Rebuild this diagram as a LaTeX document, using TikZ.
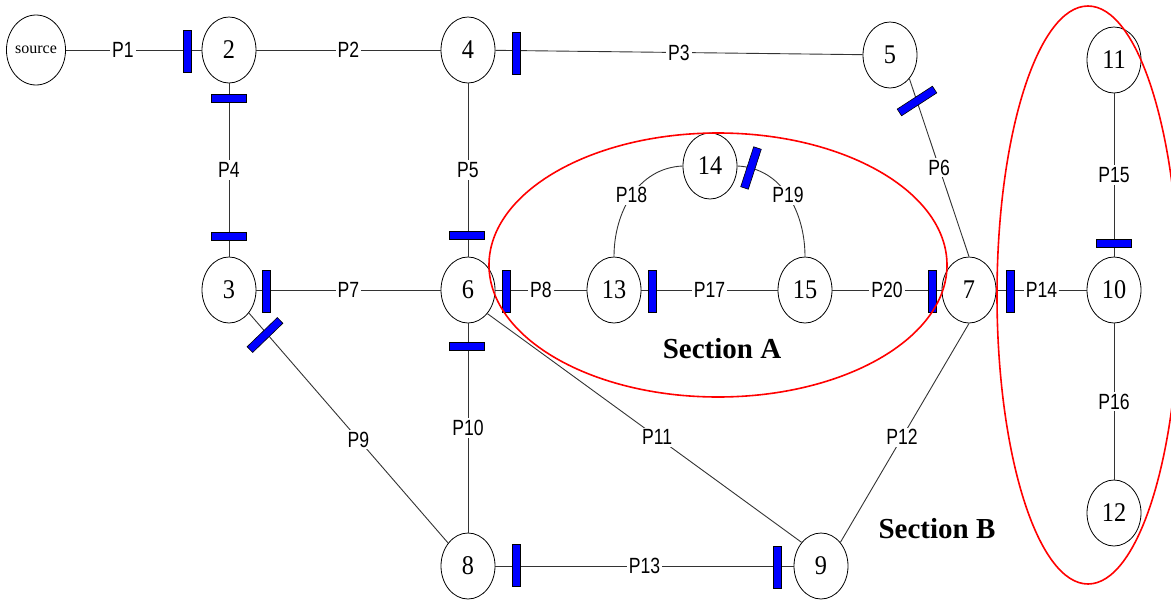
\documentclass[tikz,border=0pt]{standalone}
\usepackage{fontspec}
\usetikzlibrary{shapes.geometric}
\newfontfamily\lblfont[FakeStretch=0.8]{Liberation Sans}
\newfontfamily\numfont[FakeStretch=0.9]{Liberation Serif}
\newfontfamily\seriffont{Liberation Serif}
\begin{document}
\begin{tikzpicture}[x=1pt,y=-1pt,
  place/.style={ellipse,draw=black,line width=0.8pt,minimum width=54pt,minimum height=66pt,inner sep=0pt,font={\numfont\fontsize{27pt}{30pt}\selectfont}},
  srcplace/.style={place,minimum width=55pt,minimum height=70pt,font={\seriffont\fontsize{16pt}{18pt}\selectfont}},
  lbl/.style={fill=white,inner sep=2pt,font={\lblfont\fontsize{22pt}{24pt}\selectfont}},
  vbar/.style={rectangle,fill=blue,draw=black,line width=0.6pt,minimum width=8pt,minimum height=42pt,inner sep=0pt},
  hbar/.style={vbar,minimum width=35pt,minimum height=8pt},
  arc/.style={draw=black!80,line width=0.9pt},
  region/.style={ellipse,draw=red,line width=1.6pt,inner sep=0pt},
  sect/.style={font={\seriffont\bfseries\fontsize{29pt}{32pt}\selectfont}}
]
\useasboundingbox (0,0) rectangle (1171,600);
% places
\node[srcplace] (src) at (36,50) {source};
\node[place] (n2) at (229,50) {2};
\node[place] (n4) at (468,50) {4};
\node[place] (n5) at (890,55) {5};
\node[place] (n11) at (1114,60) {11};
\node[place] (n3) at (229,290) {3};
\node[place] (n6) at (468,290) {6};
\node[place] (n13) at (614,290) {13};
\node[place] (n15) at (805,290) {15};
\node[place] (n7) at (969,290) {7};
\node[place] (n10) at (1114,290) {10};
\node[place] (n14) at (710,166) {14};
\node[place] (n8) at (468,566) {8};
\node[place] (n9) at (821,566) {9};
\node[place] (n12) at (1114,513) {12};
% arcs
\draw[arc] (src) -- node[lbl,pos=0.42]{P1} (n2);
\draw[arc] (n2) -- node[lbl]{P2} (n4);
\draw[arc] (n4) -- node[lbl]{P3} (n5);
\draw[arc] (n2) -- node[lbl]{P4} (n3);
\draw[arc] (n4) -- node[lbl]{P5} (n6);
\draw[arc] (n5.south east) -- node[lbl]{P6} (n7.north);
\draw[arc] (n3) -- node[lbl]{P7} (n6);
\draw[arc] (n6) -- node[lbl]{P8} (n13);
\draw[arc] (n3) -- node[lbl,pos=0.55]{P9} (n8);
\draw[arc] (n6) -- node[lbl]{P10} (n8);
\draw[arc] (n6.south east) -- node[lbl,pos=0.54]{P11} (n9.north west);
\draw[arc] (n7.south) -- node[lbl,pos=0.52]{P12} (n9.north east);
\draw[arc] (n8) -- node[lbl]{P13} (n9);
\draw[arc] (n7) -- node[lbl]{P14} (n10);
\draw[arc] (n11) -- node[lbl]{P15} (n10);
\draw[arc] (n10) -- node[lbl]{P16} (n12);
\draw[arc] (n13) -- node[lbl]{P17} (n15);
\draw[arc] (n13.north) .. controls (614,212) and (638,168) .. node[lbl]{P18} (n14.west);
\draw[arc] (n14.east) .. controls (782,168) and (805,212) .. node[lbl]{P19} (n15.north);
\draw[arc] (n15) -- node[lbl]{P20} (n7);
% transitions
\node[vbar] (t1) at (187,51) {};
\node[hbar] (t2) at (229,98) {};
\node[hbar] (t3) at (229,236) {};
\node[vbar] (t4) at (516,53) {};
\node[vbar,rotate=-57] (t5) at (917,101) {};
\node[vbar] (t6) at (266,291) {};
\node[vbar,rotate=-46] (t7) at (265,335) {};
\node[hbar] (t8) at (467,235) {};
\node[vbar] (t9) at (506,291) {};
\node[hbar] (t10) at (467,346) {};
\node[vbar] (t11) at (652,291) {};
\node[vbar,rotate=-18] (t12) at (751,168) {};
\node[vbar] (t13) at (932,291) {};
\node[vbar] (t14) at (1010,291) {};
\node[hbar] (t15) at (1114,243) {};
\node[vbar] (t16) at (516,565) {};
\node[vbar] (t17) at (777,567) {};
% sections
\node[region,minimum width=458pt,minimum height=264pt] (regA) at (718,265) {};
\node[region,minimum width=182pt,minimum height=578pt] (regB) at (1088,295) {};
\node[sect] (secA) at (722,349) {Section A};
\node[sect] (secB) at (937,529) {Section B};
\end{tikzpicture}
\end{document}
